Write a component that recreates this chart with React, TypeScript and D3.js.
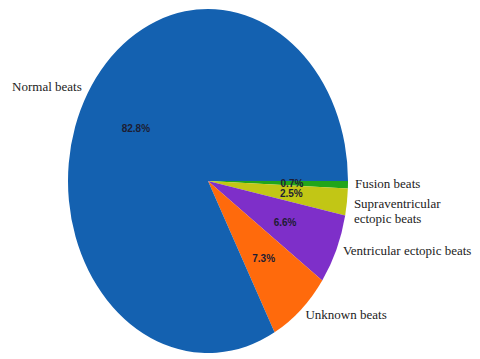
import React from 'react';
import * as d3 from 'd3';

const categories = ['Fusion beats', 'Supraventricular\nectopic beats', 'Ventricular ectopic beats', 'Unknown beats', 'Normal beats'];
const shares = [0.7, 2.5, 6.6, 7.3, 82.8];
const colors = ['#22a51a', '#c2c615', '#7e2fc9', '#ff6a0c', '#1461b0'];

const W = 480;
const H = 359;
const cx = 208;
const cy = 181;
const r = 140;
const stretch = 172 / 140; // the pie is drawn as an ellipse

const App = () => {
  const pie = d3.pie<number>().sort(null).startAngle(Math.PI / 2).endAngle(Math.PI / 2 + 2 * Math.PI);
  const arcs = pie(shares);
  const arc = d3.arc<d3.PieArcDatum<number>>().innerRadius(0).outerRadius(r);

  const pos = (d: d3.PieArcDatum<number>, k: number) => {
    const a = (d.startAngle + d.endAngle) / 2;
    return [cx + Math.sin(a) * r * k, cy - Math.cos(a) * r * k * stretch];
  };

  return (
    <svg width={W} height={H} style={{ position: 'absolute', left: 0, top: 0, background: '#fff' }}>
      <g transform={`translate(${cx},${cy}) scale(1,${stretch})`}>
        {arcs.map((d, i) => (
          <path key={i} d={arc(d) || ''} fill={colors[i]} />
        ))}
      </g>
      {arcs.map((d, i) => {
        const [x, y] = pos(d, 0.6);
        return (
          <text key={'p' + i} x={x} y={y} dy="0.35em" textAnchor="middle"
            fontFamily="Liberation Sans, Arial, sans-serif" fontSize={10} fontWeight="bold" fill="#1d1d33">
            {d.value.toFixed(1)}%
          </text>
        );
      })}
      {arcs.map((d, i) => {
        const [x, y] = pos(d, 1.05);
        const a = (d.startAngle + d.endAngle) / 2;
        const lines = categories[i].split('\n');
        const right = Math.sin(a) >= 0;
        const y0 = lines.length > 1 ? y : y - 2;
        return (
          <text key={'l' + i} x={x} y={y0} textAnchor={right ? 'start' : 'end'}
            fontFamily="Liberation Serif, Times New Roman, serif" fontSize={13} fill="#222">
            {lines.map((t, j) => (
              <tspan key={j} x={x} y={y0 + j * 15} dy="0.35em">{t}</tspan>
            ))}
          </text>
        );
      })}
    </svg>
  );
};

export default App;
